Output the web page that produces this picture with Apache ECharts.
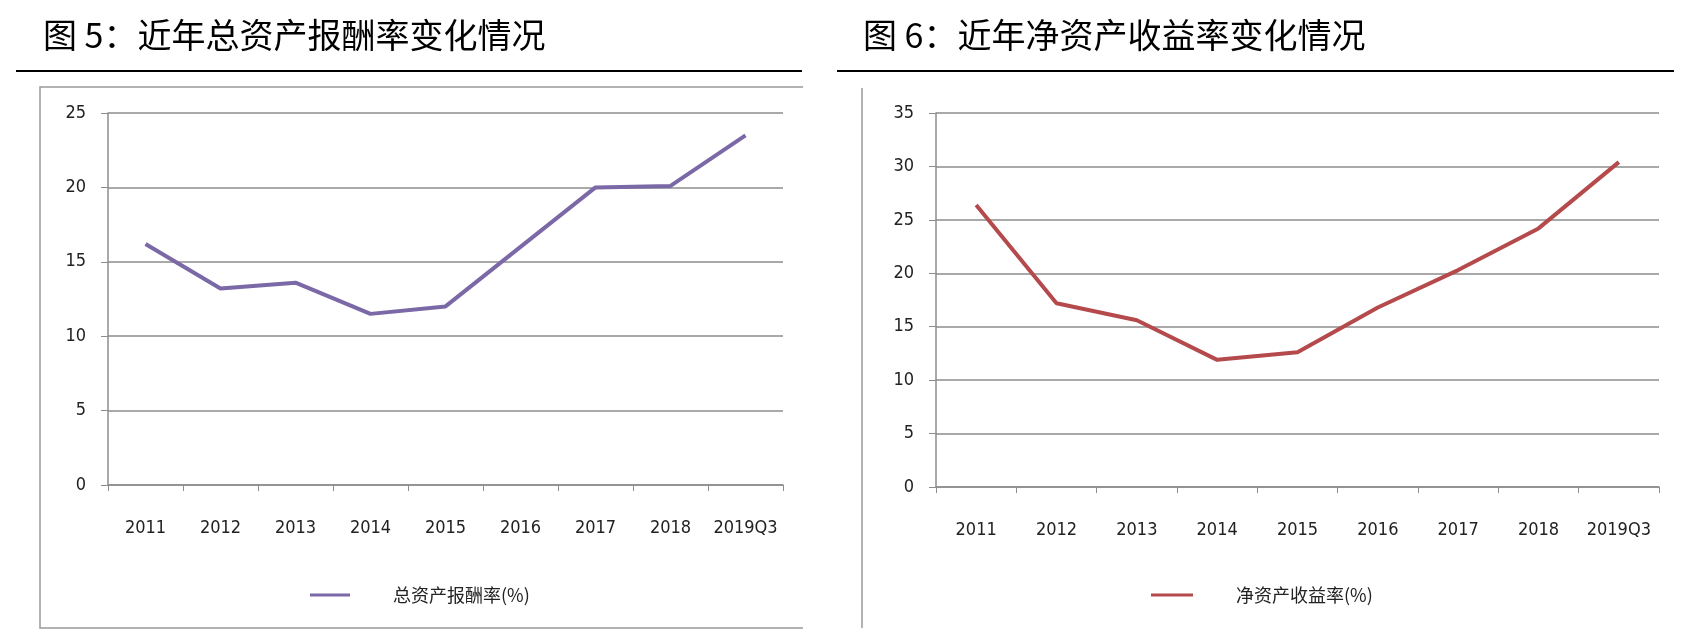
<!DOCTYPE html>
<html>
<head>
<meta charset="utf-8">
<script src="https://cdn.jsdelivr.net/npm/echarts@6/dist/echarts.min.js"></script>
<style>
html,body{margin:0;padding:0;background:#fff;}
#c{width:1688px;height:638px;}
</style>
</head>
<body>
<div id="c"></div>
<script>
var categories = ['2011','2012','2013','2014','2015','2016','2017','2018','2019Q3'];
var roaValues = [16.2, 13.2, 13.6, 11.5, 12.0, 16.0, 20.0, 20.1, 23.5];
var roeValues = [26.4, 17.2, 15.6, 11.9, 12.6, 16.8, 20.3, 24.2, 30.4];
var roaName = '总资产报酬率(%)';
var roeName = '净资产收益率(%)';
var titleLeft = '图 5：近年总资产报酬率变化情况';
var titleRight = '图 6：近年净资产收益率变化情况';

var chart = echarts.init(document.getElementById('c'));
var gray = '#8c8c8c';
var labelFont = {color:'#222', fontSize:18, fontFamily:'"Liberation Sans Narrow", "DejaVu Sans Condensed", "Liberation Sans"'};
function xAx(gi){
  return {type:'category', gridIndex:gi, data:categories, boundaryGap:true,
    axisLine:{lineStyle:{color:gray, width:1.5}},
    axisTick:{show:true, length:6, lineStyle:{color:gray, width:1}},
    axisLabel:Object.assign({margin:34, interval:0}, labelFont)};
}
function yAx(gi, max){
  return {type:'value', gridIndex:gi, min:0, max:max, interval:5,
    axisLine:{show:true, lineStyle:{color:gray, width:1.5}},
    axisTick:{show:true, length:7, lineStyle:{color:gray, width:1}},
    splitLine:{lineStyle:{color:gray, width:1.5}},
    axisLabel:Object.assign({margin:22}, labelFont)};
}
chart.setOption({
  animation:false,
  title:[
    {text:titleLeft, left:38, top:13, textStyle:{fontSize:34, fontWeight:'normal', color:'#000', fontFamily:'Noto Sans CJK SC'}},
    {text:titleRight, left:858, top:13, textStyle:{fontSize:34, fontWeight:'normal', color:'#000', fontFamily:'Noto Sans CJK SC'}}
  ],
  grid:[
    {left:108, right:905, top:113, bottom:153},
    {left:936, right:29, top:113, bottom:151}
  ],
  xAxis:[xAx(0), xAx(1)],
  yAxis:[yAx(0,25), yAx(1,35)],
  legend:[
    {data:[roaName], left:305, top:581, icon:'rect', itemWidth:40, itemHeight:3,
     textStyle:{fontSize:18, color:'#222', fontFamily:'Noto Sans CJK SC', padding:[0,0,0,38]}},
    {data:[roeName], left:1146, top:581, icon:'rect', itemWidth:42, itemHeight:3,
     textStyle:{fontSize:18, color:'#222', fontFamily:'Noto Sans CJK SC', padding:[0,0,0,38]}}
  ],
  series:[
    {name:roaName, type:'line', xAxisIndex:0, yAxisIndex:0, data:roaValues, showSymbol:false, symbol:'none',
     lineStyle:{color:'#7b68a6', width:4}, itemStyle:{color:'#7b68a6'}},
    {name:roeName, type:'line', xAxisIndex:1, yAxisIndex:1, data:roeValues, showSymbol:false, symbol:'none',
     lineStyle:{color:'#b54a4c', width:4}, itemStyle:{color:'#b54a4c'}}
  ],
  graphic:[
    {type:'line', shape:{x1:16, y1:71, x2:802, y2:71}, style:{stroke:'#000', lineWidth:2}},
    {type:'line', shape:{x1:837, y1:71, x2:1674, y2:71}, style:{stroke:'#000', lineWidth:2}},
    {type:'polyline', shape:{points:[[803,87],[40,87],[40,628],[803,628]]}, style:{stroke:'#999', lineWidth:1.5, fill:null}},
    {type:'line', shape:{x1:862, y1:88, x2:862, y2:628}, style:{stroke:'#999', lineWidth:1.5}}
  ]
});
</script>
</body>
</html>
